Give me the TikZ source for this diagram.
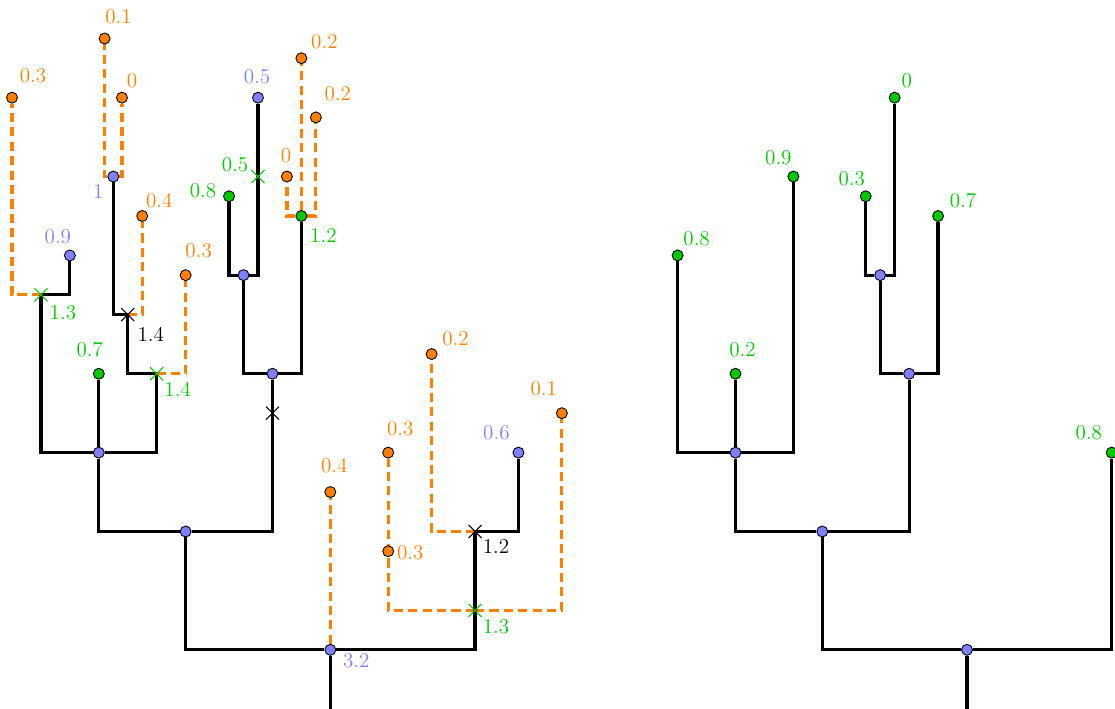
\documentclass[tikz,border=0pt]{standalone}
\usetikzlibrary{shapes.misc}
\definecolor{tOrange}{RGB}{255,128,0}
\definecolor{tGreen}{RGB}{0,200,0}
\definecolor{tBlue}{RGB}{128,128,255}
\pgfdeclarelayer{back}
\pgfsetlayers{back,main}

\begin{document}
\begin{tikzpicture}[x=0.2894cm,y=0.3944cm,
        dot/.style={circle,draw=black,line width=0.5pt,inner sep=0pt,minimum size=0.22cm},
        bnode/.style={dot,fill=tBlue},
        gnode/.style={dot,fill=tGreen},
        onode/.style={dot,fill=tOrange},
        xcross/.style={cross out,line width=0.6pt,inner sep=0pt,minimum size=0.24cm},
        gcross/.style={xcross,draw=tGreen},
        kcross/.style={xcross,draw=black},
        branch/.style={line width=1.8pt},
        odash/.style={tOrange,line width=1.8pt,dash pattern=on 5.2pt off 3pt},
        lbl/.style={font=\large,inner sep=0pt}]
        \useasboundingbox (-0.24cm,0) rectangle (22.06cm,14.18cm);
        \clip (-0.24cm,0) rectangle (22.06cm,14.18cm);

        \coordinate (rootL) at (22,-1);
        \node[bnode,label={[lbl,tBlue,xshift=0.52cm,yshift=-0.22cm]center:3.2}] (L1) at (22,3) {};
        \node[bnode] (L2) at (12,9) {};
        \node[bnode] (L3) at (6,13) {};
        \node[bnode] (L4) at (18,17) {};
        \node[bnode] (L5) at (16,22) {};
        \node[bnode,label={[lbl,tBlue,xshift=-0.3cm,yshift=-0.3cm]center:1}] (n1) at (7,27) {};
        \node[bnode,label={[lbl,tBlue,xshift=-0.24cm,yshift=0.38cm]center:0.9}] (b09) at (4,23) {};
        \node[bnode,label={[lbl,tBlue,xshift=-0.02cm,yshift=0.42cm]center:0.5}] (b05) at (17,31) {};
        \node[bnode,label={[lbl,tBlue,xshift=-0.44cm,yshift=0.4cm]center:0.6}] (b06) at (35,13) {};
        \node[gnode,label={[lbl,tGreen,xshift=-0.18cm,yshift=0.48cm]center:0.7}] (g07) at (6,17) {};
        \node[gnode,label={[lbl,tGreen,xshift=-0.52cm,yshift=0.12cm]center:0.8}] (g08) at (15,26) {};
        \node[gnode,label={[lbl,tGreen,xshift=0.44cm,yshift=-0.38cm]center:1.2}] (g12) at (20,25) {};
        \node[gcross,label={[lbl,tGreen,xshift=0.44cm,yshift=-0.36cm]center:1.3}] (xg13) at (2,21) {};
        \node[gcross,label={[lbl,tGreen,xshift=0.42cm,yshift=-0.32cm]center:1.4}] (xg14) at (10,17) {};
        \node[gcross,label={[lbl,tGreen,xshift=-0.46cm,yshift=0.24cm]center:0.5}] (xg05) at (17,27) {};
        \node[gcross,label={[lbl,tGreen,xshift=0.42cm,yshift=-0.32cm]center:1.3}] (xg31) at (32,5) {};
        \node[kcross,label={[lbl,black,xshift=0.46cm,yshift=-0.4cm]center:1.4}] (xk14) at (8,20) {};
        \node[kcross] (xk18) at (18,15) {};
        \node[kcross,label={[lbl,black,xshift=0.42cm,yshift=-0.3cm]center:1.2}] (xk12) at (32,9) {};
        \node[onode,label={[lbl,tOrange,xshift=0.42cm,yshift=0.44cm]center:0.3}] (o1) at (0,31) {};
        \node[onode,label={[lbl,tOrange,xshift=0.28cm,yshift=0.44cm]center:0.1}] (o2) at (6.4,34) {};
        \node[onode,label={[lbl,tOrange,xshift=0.2cm,yshift=0.34cm]center:0}] (o3) at (7.6,31) {};
        \node[onode,label={[lbl,tOrange,xshift=0.34cm,yshift=0.3cm]center:0.4}] (o4) at (9,25) {};
        \node[onode,label={[lbl,tOrange,xshift=0.26cm,yshift=0.48cm]center:0.3}] (o5) at (12,22) {};
        \node[onode,label={[lbl,tOrange,xshift=-0.02cm,yshift=0.42cm]center:0}] (o6) at (19,27) {};
        \node[onode,label={[lbl,tOrange,xshift=0.46cm,yshift=0.34cm]center:0.2}] (o7) at (20,33) {};
        \node[onode,label={[lbl,tOrange,xshift=0.44cm,yshift=0.48cm]center:0.2}] (o8) at (21,30) {};
        \node[onode,label={[lbl,tOrange,xshift=0.08cm,yshift=0.52cm]center:0.4}] (o9) at (22,11) {};
        \node[onode,label={[lbl,tOrange,xshift=0.24cm,yshift=0.48cm]center:0.3}] (o10) at (26,13) {};
        \node[onode,label={[lbl,tOrange,xshift=0.44cm,yshift=-0.02cm]center:0.3}] (o11) at (26,8) {};
        \node[onode,label={[lbl,tOrange,xshift=-0.36cm,yshift=0.48cm]center:0.1}] (o12) at (38,15) {};
        \node[onode,label={[lbl,tOrange,xshift=0.48cm,yshift=0.3cm]center:0.2}] (o13) at (29,18) {};

        \coordinate (rootR) at (66,-1);
        \node[bnode] (R1) at (66,3) {};
        \node[bnode] (R2) at (56,9) {};
        \node[bnode] (R3) at (50,13) {};
        \node[bnode] (R4) at (62,17) {};
        \node[bnode] (R5) at (60,22) {};
        \node[gnode,label={[lbl,tGreen,xshift=0.38cm,yshift=0.34cm]center:0.8}] (r08a) at (46,23) {};
        \node[gnode,label={[lbl,tGreen,xshift=0.14cm,yshift=0.48cm]center:0.2}] (r02) at (50,17) {};
        \node[gnode,label={[lbl,tGreen,xshift=-0.3cm,yshift=0.38cm]center:0.9}] (r09) at (54,27) {};
        \node[gnode,label={[lbl,tGreen,xshift=-0.28cm,yshift=0.36cm]center:0.3}] (r03) at (59,26) {};
        \node[gnode,label={[lbl,tGreen,xshift=0.24cm,yshift=0.34cm]center:0}] (r00) at (61,31) {};
        \node[gnode,label={[lbl,tGreen,xshift=0.5cm,yshift=0.3cm]center:0.7}] (r07) at (64,25) {};
        \node[gnode,label={[lbl,tGreen,xshift=-0.46cm,yshift=0.4cm]center:0.8}] (r08b) at (76,13) {};

        \begin{pgfonlayer}{back}
        \draw[odash] (xg13.center) -| (o1);
        \draw[odash] (n1) -| (o2);
        \draw[odash] (n1) -| (o3);
        \draw[odash] (xk14.center) -| (o4);
        \draw[odash] (xg14.center) -| (o5);
        \draw[odash] (g12) -| (o6);
        \draw[odash] (g12) -- (o7);
        \draw[odash] (g12) -| (o8);
        \draw[odash] (L1) -- (o9);
        \draw[odash] (xg31.center) -| (o10);
        \draw[odash] (xg31.center) -| (o12);
        \draw[odash] (xk12.center) -| (o13);

        \draw[branch] (rootL) -- (L1);
        \draw[branch] (L1) -| (L2);
        \draw[branch] (L1) -| (xk12.center);
        \draw[branch] (xk12.center) -| (b06);
        \draw[branch] (L2) -| (L3);
        \draw[branch] (L2) -| (L4);
        \draw[branch] (L3) -| (xg13.center);
        \draw[branch] (xg13.center) -| (b09);
        \draw[branch] (L3) -- (g07);
        \draw[branch] (L3) -| (xg14.center);
        \draw[branch] (xg14.center) -| (xk14.center);
        \draw[branch] (xk14.center) -| (n1);
        \draw[branch] (L4) -| (L5);
        \draw[branch] (L4) -| (g12);
        \draw[branch] (L5) -| (g08);
        \draw[branch] (L5) -| (b05);

        \draw[branch] (rootR) -- (R1);
        \draw[branch] (R1) -| (R2);
        \draw[branch] (R1) -| (r08b);
        \draw[branch] (R2) -| (R3);
        \draw[branch] (R2) -| (R4);
        \draw[branch] (R3) -| (r08a);
        \draw[branch] (R3) -- (r02);
        \draw[branch] (R3) -| (r09);
        \draw[branch] (R4) -| (R5);
        \draw[branch] (R4) -| (r07);
        \draw[branch] (R5) -| (r03);
        \draw[branch] (R5) -| (r00);
        \end{pgfonlayer}
    \end{tikzpicture}
\end{document}
